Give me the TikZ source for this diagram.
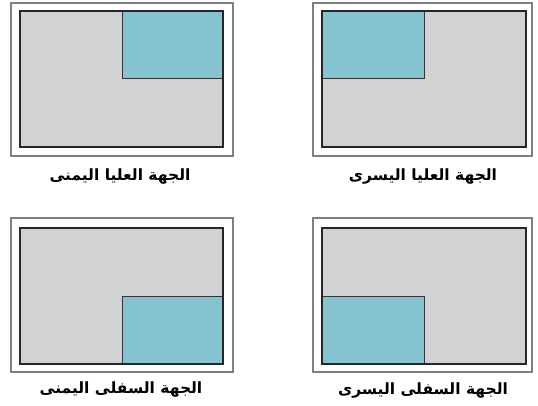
\documentclass[tikz,border=0pt]{standalone}
\usepackage{fontspec}
\newfontfamily\arabicfont[Script=Arabic,BoldFont={DejaVu Sans Bold}]{DejaVu Sans}
\TeXXeTstate=1
\definecolor{panelgray}{HTML}{D1D2D4}
\definecolor{panelblue}{HTML}{86C3D0}
\definecolor{framegray}{HTML}{7F7F7F}
\tikzset{
  frame/.style={draw=framegray, line width=2pt, fill=white},
  screen/.style={draw=black!85, line width=2pt, fill=panelgray},
  zone/.style={draw=black!80, line width=1pt, fill=panelblue},
  caption/.style={font=\arabicfont\bfseries\fontsize{15.5}{18}\selectfont, inner sep=0pt}
}
\begin{document}
\begin{tikzpicture}[x=1pt,y=-1pt]
\useasboundingbox (0,0) rectangle (538,406);
% top left panel: upper right
\draw[frame] (10.5,3) rectangle (232.5,156);
\draw[screen] (20,11) rectangle (223,147);
\draw[zone] (122,11) rectangle (223,79);
\draw[black!85, line width=2pt] (20,11) rectangle (223,147);
\node[caption] (tr) at (120,177) {\beginR الجهة العليا اليمنى\endR};
% top right panel: upper left
\draw[frame] (312.5,3) rectangle (532,156);
\draw[screen] (322,11) rectangle (525.5,147);
\draw[zone] (322,11) rectangle (424,79);
\draw[black!85, line width=2pt] (322,11) rectangle (525.5,147);
\node[caption] (tl) at (423,177) {\beginR الجهة العليا اليسرى\endR};
% bottom left panel: lower right
\draw[frame] (10.5,218) rectangle (232.5,372);
\draw[screen] (20,228) rectangle (223,364);
\draw[zone] (122,296) rectangle (223,364);
\draw[black!85, line width=2pt] (20,228) rectangle (223,364);
\node[caption] (br) at (121,390) {\beginR الجهة السفلى اليمنى\endR};
% bottom right panel: lower left
\draw[frame] (312.5,218) rectangle (532,372);
\draw[screen] (322,228) rectangle (525.5,364);
\draw[zone] (322,296) rectangle (424,364);
\draw[black!85, line width=2pt] (322,228) rectangle (525.5,364);
\node[caption] (bl) at (423,391) {\beginR الجهة السفلى اليسرى\endR};
\end{tikzpicture}
\end{document}
